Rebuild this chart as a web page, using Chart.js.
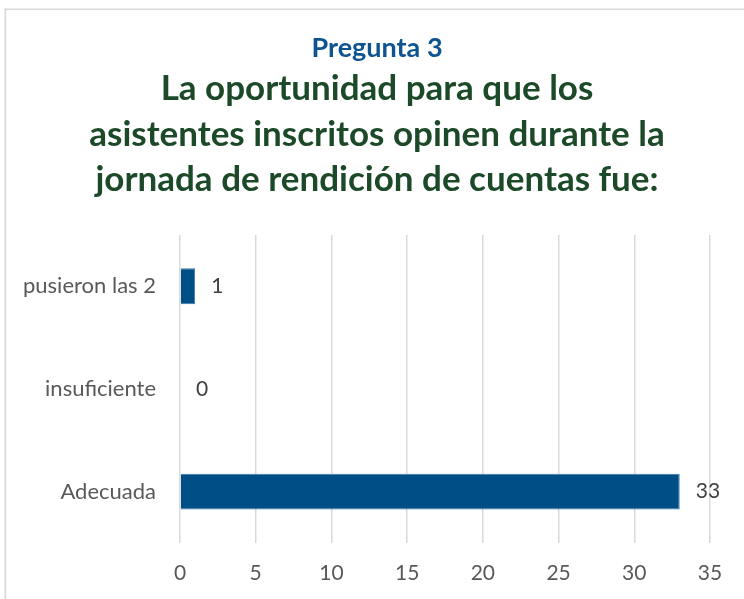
<!DOCTYPE html>
<html>
<head>
<meta charset="utf-8">
<script src="https://cdn.jsdelivr.net/npm/chart.js@4.4.1/dist/chart.umd.min.js"></script>
<style>
  html, body { margin: 0; padding: 0; background: #ffffff; }
  #wrap { position: relative; width: 744px; height: 599px; }
  canvas { display: block; }
</style>
</head>
<body>
<div id="wrap"><canvas id="c" width="744" height="599"></canvas></div>
<script>
const categories = ["pusieron las 2", "insuficiente", "Adecuada"];
const values = [1, 0, 33];
const kicker = "Pregunta 3";
const titleLines = [
  "La oportunidad para que los",
  "asistentes inscritos opinen durante la",
  "jornada de rendición de cuentas fue:"
];
const xTicks = { min: 0, max: 35, step: 5 };

const FONT = "Lato, 'Open Sans', sans-serif";

const framePlugin = {
  id: 'frame',
  beforeDraw(chart) {
    const ctx = chart.ctx;
    ctx.save();
    ctx.fillStyle = '#ffffff';
    ctx.fillRect(0, 0, chart.width, chart.height);
    ctx.fillStyle = '#d9d9d9';
    ctx.fillRect(4.5, 8.5, 1.6, chart.height);
    ctx.fillRect(4.5, 8.5, chart.width, 1.6);
    ctx.restore();
  }
};

const valueLabels = {
  id: 'valueLabels',
  afterDatasetsDraw(chart) {
    const ctx = chart.ctx;
    const meta = chart.getDatasetMeta(0);
    ctx.save();
    ctx.font = "21px " + FONT;
    ctx.fillStyle = '#404040';
    ctx.textAlign = 'left';
    ctx.textBaseline = 'middle';
    meta.data.forEach((bar, i) => {
      ctx.fillText(String(values[i]), bar.x + 16, bar.y);
    });
    ctx.restore();
  }
};

new Chart(document.getElementById('c'), {
  type: 'bar',
  data: {
    labels: categories,
    datasets: [{
      data: values,
      backgroundColor: '#004E86',
      borderColor: '#3B78AE',
      borderWidth: 1,
      categoryPercentage: 1,
      barPercentage: 0.35
    }]
  },
  options: {
    indexAxis: 'y',
    responsive: false,
    animation: false,
    devicePixelRatio: 1,
    layout: { padding: { left: 44, right: 34, top: 0, bottom: 0 } },
    plugins: {
      legend: { display: false },
      tooltip: { enabled: false },
      title: {
        display: true,
        text: kicker,
        color: '#0E5491',
        font: { family: FONT, size: 27, weight: 'bold', lineHeight: 1.2 },
        padding: { top: 32, bottom: 0 }
      },
      subtitle: {
        display: true,
        text: titleLines,
        color: '#1C4A29',
        font: { family: FONT, size: 35, weight: 'bold', lineHeight: 1.3 },
        padding: { top: 2, bottom: 32 }
      }
    },
    scales: {
      x: {
        min: xTicks.min,
        max: xTicks.max,
        ticks: {
          stepSize: xTicks.step,
          color: '#595959',
          font: { family: FONT, size: 21 },
          padding: 18
        },
        grid: { color: '#d9d9d9', lineWidth: 1.5, drawTicks: false },
        border: { display: false },
        afterFit(scale) { scale.height = 56; }
      },
      y: {
        ticks: {
          color: '#595959',
          font: { family: FONT, size: 22 },
          padding: 24
        },
        grid: { display: false, drawTicks: false },
        border: { display: false },
        afterFit(scale) {
          scale.width = 136;
          scale._computeLabelArea = () => undefined;
        }
      }
    }
  },
  plugins: [framePlugin, valueLabels]
});
</script>
</body>
</html>
